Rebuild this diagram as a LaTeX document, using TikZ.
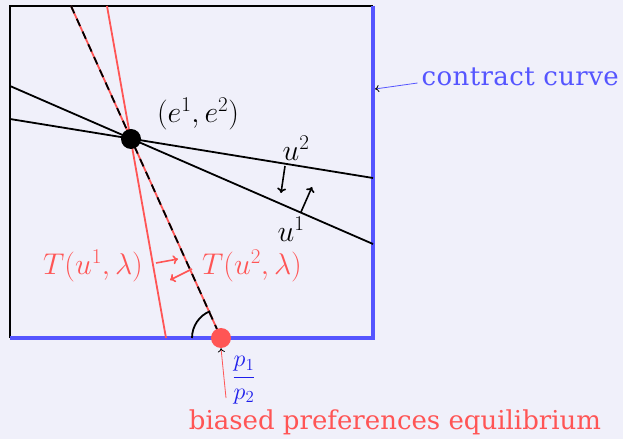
\RequirePackage{fix-cm}
\documentclass[tikz,border=0pt]{standalone}
\usepackage{fontspec}
\setmainfont{DejaVu Serif}
\usetikzlibrary{arrows.meta}
\definecolor{bg}{RGB}{240,240,250}
\definecolor{myblue}{RGB}{85,85,255}
\definecolor{deepblue}{RGB}{30,30,235}
\definecolor{myred}{RGB}{255,85,85}
\tikzset{
  blk/.style={black, line width=1.8pt},
  redl/.style={myred, line width=1.8pt},
  bluel/.style={myblue, line width=3.5pt},
  lbl/.style={inner sep=0pt},
  mathlbl/.style={inner sep=0pt, font=\fontsize{30}{34}\selectfont},
  txt/.style={inner sep=0pt, font=\fontsize{26}{30}\selectfont},
  arr/.style={black, line width=1.6pt, -{To[length=5pt,width=9pt]}},
  rarr/.style={myred, line width=1.6pt, -{To[length=5pt,width=9pt]}},
  thinarr/.style={line width=0.8pt, -{To[length=4pt,width=7pt,color=black]}},
}
\begin{document}
\begin{tikzpicture}[x=1pt,y=1pt,font=\fontsize{24}{28}\selectfont]
\fill[bg] (0,0) rectangle (623,439);
\useasboundingbox (0,0) rectangle (623,439);
% box
\coordinate (TL) at (10,433);
\coordinate (TR) at (373,433);
\coordinate (BL) at (10,101);
\coordinate (BR) at (373,101);
\draw[blk] (BL) -- (TL) -- (TR);
\draw[bluel] (TR) -- (BR) -- (BL);
% indifference lines
\coordinate (a1) at (10,353);
\coordinate (a2) at (373,195);
\coordinate (b1) at (10,320);
\coordinate (b2) at (373,261);
\draw[blk] (a1) -- (a2);
\draw[blk] (b1) -- (b2);
% red lines
\coordinate (r1) at (107,433);
\coordinate (r2) at (166,101);
\coordinate (d1) at (71,433);
\draw[redl] (r1) -- (r2);
\node[circle, inner sep=0pt, minimum size=20pt] (eq) at (221,101) {};
\draw[redl] (d1) -- (eq.center);
\draw[black, line width=1.8pt, dash pattern=on 8pt off 6pt] (d1) -- (eq.center);
% angle arc
\coordinate (arcstart) at (192,101);
\draw[blk] (arcstart) arc[start angle=180, end angle=112, radius=29pt];
\fill[myred] (eq.center) circle[radius=10pt];
% endowment
\node[circle, fill=black, inner sep=0pt, minimum size=20pt] (e) at (131,300) {};
\node[mathlbl] (elab) at (198,325) {$(e^1,e^2)$};
% u labels and arrows
\node[mathlbl] (u2) at (296,291) {$u^2$};
\node[mathlbl] (u1) at (291,210) {$u^1$};
\coordinate (u2s) at (285,273);
\coordinate (u2e) at (281,246);
\coordinate (u1s) at (301,227);
\coordinate (u1e) at (312,252);
\draw[arr] (u2s) -- (u2e);
\draw[arr] (u1s) -- (u1e);
% T labels
\node[mathlbl, text=myred] (T1) at (93,173) {$T(u^1,\lambda)$};
\node[mathlbl, text=myred] (T2) at (252,173) {$T(u^2,\lambda)$};
\coordinate (t1s) at (156,176);
\coordinate (t1e) at (178,180);
\coordinate (t2s) at (192,170);
\coordinate (t2e) at (170,159);
\draw[rarr] (t1s) -- (t1e);
\draw[rarr] (t2s) -- (t2e);
% contract curve
\node[txt, text=myblue, anchor=east] (cc) at (619,362) {\addfontfeatures{LetterSpace=1.5}contract curve};
\coordinate (ccend) at (375,350);
\draw[thinarr, myblue] (cc.west) ++(-4,-6) -- (ccend);
% price ratio
\node[lbl, text=deepblue] (pr) at (244,59) {$\displaystyle\frac{p_1}{p_2}$};
% biased equilibrium
\node[txt, text=myred] (be) at (395,17) {biased preferences equilibrium};
\coordinate (bes) at (226,41);
\draw[thinarr, myred] (bes) -- (eq.south);
\end{tikzpicture}
\end{document}
